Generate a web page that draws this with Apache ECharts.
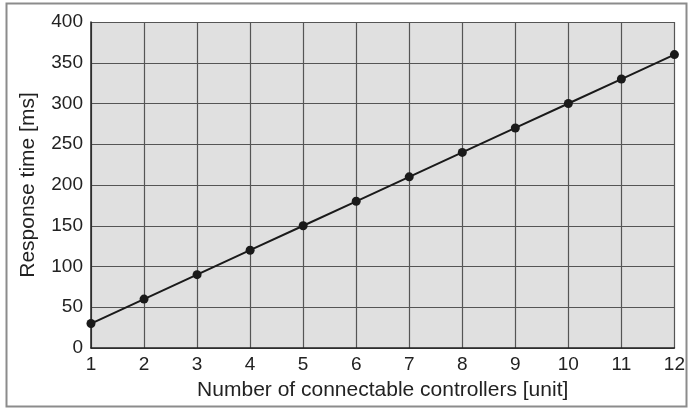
<!DOCTYPE html>
<html>
<head>
<meta charset="utf-8">
<script src="https://cdn.jsdelivr.net/npm/echarts@6/dist/echarts.min.js"></script>
<style>
html,body{margin:0;padding:0;background:#fff;}
#chart{width:688px;height:409px;}
</style>
</head>
<body>
<div id="chart"></div>
<script>
const controllers = [1,2,3,4,5,6,7,8,9,10,11,12];
const responseTime = [30,60,90,120,150,180,210,240,270,300,330,360];
const xTitle = 'Number of connectable controllers [unit]';
const yTitle = 'Response time [ms]';

const chart = echarts.init(document.getElementById('chart'), null, {renderer:'canvas'});
const font = 'Liberation Sans, Arial, Helvetica, sans-serif';
chart.setOption({
  animation:false,
  graphic:[{type:'rect', silent:true, z:-10,
    shape:{x:6.5,y:3.5,width:680,height:403},
    style:{fill:'none', stroke:'#8c8c8c', lineWidth:2}}],
  grid:{left:91, top:22, right:10, bottom:61, show:true, backgroundColor:'#e0e0e0', borderWidth:0},
  xAxis:{type:'value', min:1, max:12, interval:1,
    name:xTitle, nameLocation:'middle', nameGap:32,
    nameTextStyle:{fontFamily:font, fontSize:21, color:'#222'},
    axisLine:{show:true, lineStyle:{color:'#222', width:1.5}},
    axisTick:{show:false},
    axisLabel:{fontFamily:font, fontSize:19, color:'#222', margin:7},
    splitLine:{show:true, lineStyle:{color:'#555', width:1.2}}},
  yAxis:{type:'value', min:0, max:400, interval:50,
    name:yTitle, nameLocation:'middle', nameGap:52,
    nameTextStyle:{fontFamily:font, fontSize:21, color:'#222'},
    axisLine:{show:true, lineStyle:{color:'#222', width:1.5}},
    axisTick:{show:false},
    axisLabel:{fontFamily:font, fontSize:19, color:'#222', margin:8},
    splitLine:{show:true, lineStyle:{color:'#555', width:1.2}}},
  series:[{type:'line', data:controllers.map((c,i)=>[c,responseTime[i]]),
    symbol:'circle', symbolSize:9, clip:false,
    lineStyle:{color:'#1a1a1a', width:2},
    itemStyle:{color:'#1a1a1a'}}]
});
</script>
</body>
</html>
